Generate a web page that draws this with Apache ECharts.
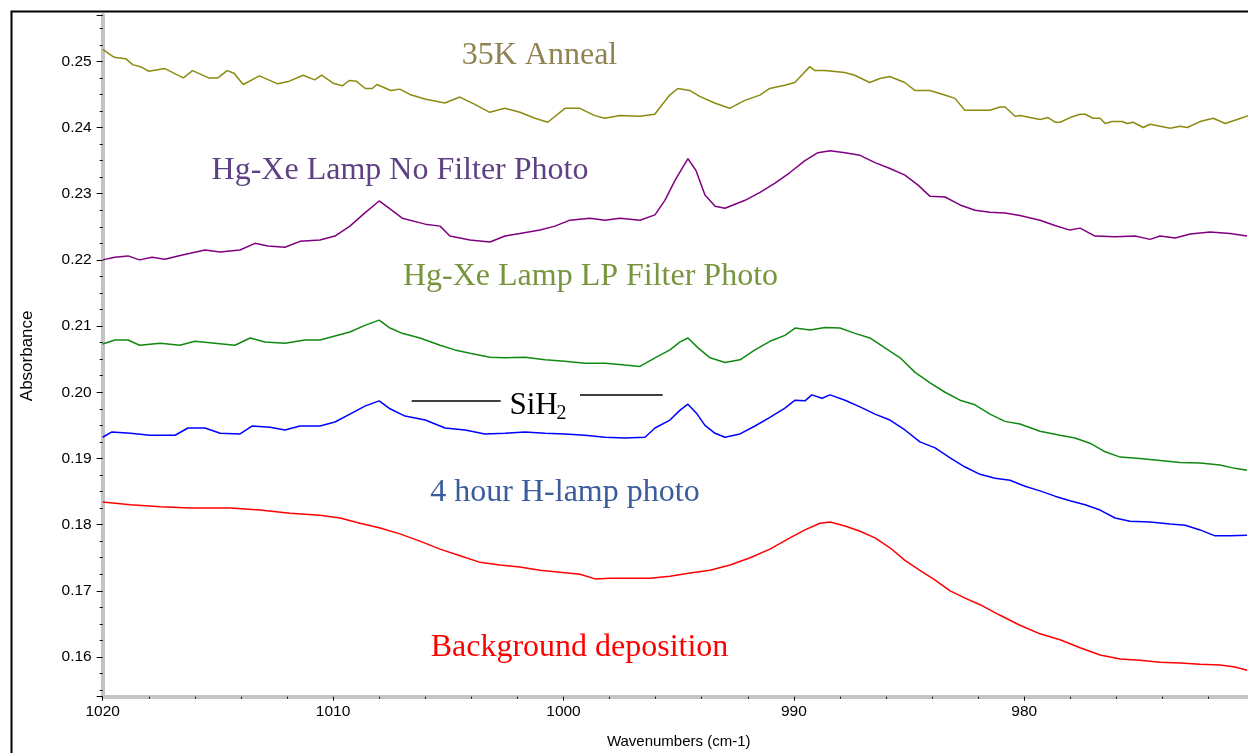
<!DOCTYPE html>
<html>
<head>
<meta charset="utf-8">
<title>SiH2 absorbance spectra</title>
<script src="https://cdn.jsdelivr.net/npm/echarts@6/dist/echarts.min.js"></script>
<style>
  html, body { margin: 0; padding: 0; background: #ffffff; }
  #chart { width: 1248px; height: 753px; }
</style>
</head>
<body>
<div id="chart"></div>
<script>
// Wavenumbers (cm-1) and absorbance for each spectrum

const annealWn = [1020, 1019.5, 1019.0, 1018.7, 1018.3, 1018.0, 1017.3, 1016.5, 1016.1, 1015.4, 1015.0, 1014.6, 1014.3, 1013.9, 1013.2, 1012.4, 1011.9, 1011.3, 1010.8, 1010.5, 1010.0, 1009.6, 1009.3, 1009.0, 1008.6, 1008.3, 1008.1, 1007.5, 1007.1, 1006.67, 1006.02, 1005.15, 1004.5, 1003.85, 1003.2, 1002.55, 1001.89, 1001.24, 1000.68, 999.94, 999.29, 998.64, 998.21, 997.56, 996.69, 996.04, 995.39, 995.04, 994.52, 994.09, 993.44, 992.79, 992.13, 991.48, 991.05, 990.4, 989.96, 989.31, 989.09, 988.66, 987.79, 987.36, 986.71, 986.27, 985.84, 985.19, 984.75, 984.1, 983.45, 983.01, 982.58, 981.49, 981.05, 980.83, 980.4, 980.18, 979.75, 979.31, 978.97, 978.66, 978.45, 978.01, 977.58, 977.36, 977.01, 976.71, 976.49, 976.19, 975.75, 975.54, 975.28, 974.84, 974.54, 974.1, 973.67, 973.24, 972.93, 972.37, 971.8, 971.28, 970.76, 970.28];
const annealAbs = [0.2518, 0.2506, 0.2504, 0.2495, 0.2491, 0.2485, 0.2489, 0.2475, 0.2486, 0.2475, 0.2475, 0.2486, 0.2482, 0.2465, 0.2478, 0.2466, 0.2470, 0.2479, 0.2472, 0.2479, 0.2467, 0.2463, 0.2471, 0.2470, 0.2459, 0.2459, 0.2465, 0.2456, 0.2458, 0.2450, 0.2443, 0.2437, 0.2446, 0.2435, 0.2423, 0.2429, 0.2423, 0.2414, 0.2408, 0.2429, 0.2429, 0.2418, 0.2414, 0.2418, 0.2417, 0.2420, 0.2449, 0.2459, 0.2456, 0.2447, 0.2437, 0.2429, 0.2441, 0.2449, 0.2459, 0.2464, 0.2468, 0.2492, 0.2486, 0.2486, 0.2483, 0.2479, 0.2468, 0.2474, 0.2477, 0.2468, 0.2456, 0.2456, 0.2449, 0.2444, 0.2426, 0.2426, 0.2431, 0.2431, 0.2417, 0.2418, 0.2415, 0.2412, 0.2415, 0.2408, 0.2408, 0.2415, 0.2420, 0.2420, 0.2414, 0.2414, 0.2406, 0.2409, 0.2409, 0.2406, 0.2408, 0.2400, 0.2405, 0.2402, 0.2399, 0.2402, 0.2400, 0.2409, 0.2414, 0.2406, 0.2412, 0.2418];

const noFilterWn = [1020, 1019.47, 1018.9, 1018.4, 1017.86, 1017.3, 1016.73, 1016.2, 1015.56, 1014.9, 1014.04, 1013.39, 1012.83, 1012.09, 1011.44, 1010.57, 1009.92, 1009.27, 1008.62, 1008.0, 1007.53, 1007.0, 1006.0, 1005.36, 1004.93, 1004.06, 1003.19, 1002.54, 1001.89, 1001.02, 1000.37, 999.72, 998.85, 998.2, 997.55, 996.68, 996.03, 995.6, 995.16, 994.6, 994.25, 993.86, 993.42, 992.99, 992.12, 991.47, 990.82, 990.17, 989.52, 988.96, 988.43, 987.78, 987.13, 986.48, 985.83, 985.18, 984.61, 984.09, 983.44, 982.79, 982.14, 981.49, 980.84, 980.19, 979.32, 978.67, 978.02, 977.58, 976.93, 976.06, 975.19, 974.54, 974.11, 973.45, 972.8, 971.94, 971.07, 970.33];
const noFilterAbs = [0.2200, 0.2204, 0.2206, 0.2200, 0.2204, 0.2201, 0.2206, 0.2210, 0.2215, 0.2212, 0.2215, 0.2225, 0.2221, 0.2219, 0.2228, 0.2230, 0.2236, 0.2251, 0.2271, 0.2289, 0.2277, 0.2263, 0.2254, 0.2251, 0.2236, 0.2230, 0.2227, 0.2236, 0.2240, 0.2245, 0.2251, 0.2260, 0.2263, 0.2260, 0.2263, 0.2260, 0.2268, 0.2290, 0.2320, 0.2353, 0.2335, 0.2298, 0.2281, 0.2278, 0.2290, 0.2302, 0.2316, 0.2332, 0.2350, 0.2362, 0.2365, 0.2362, 0.2358, 0.2347, 0.2338, 0.2328, 0.2313, 0.2296, 0.2295, 0.2283, 0.2275, 0.2272, 0.2271, 0.2267, 0.2260, 0.2252, 0.2245, 0.2248, 0.2236, 0.2235, 0.2236, 0.2231, 0.2236, 0.2233, 0.2239, 0.2242, 0.2240, 0.2236];

const lpFilterWn = [1020, 1019.47, 1018.9, 1018.4, 1017.5, 1016.65, 1016.0, 1015.13, 1014.26, 1013.6, 1012.96, 1012.09, 1011.22, 1010.57, 1009.92, 1009.27, 1008.62, 1008.0, 1007.53, 1007.0, 1006.23, 1005.36, 1004.71, 1004.06, 1003.19, 1002.54, 1001.67, 1000.8, 999.94, 999.07, 998.2, 997.33, 996.68, 996.03, 995.38, 994.94, 994.6, 994.16, 993.64, 992.99, 992.34, 991.69, 991.04, 990.39, 989.95, 989.3, 988.65, 988.0, 987.35, 986.7, 986.05, 985.39, 984.74, 984.09, 983.44, 982.79, 982.14, 981.49, 980.84, 980.19, 979.32, 978.45, 977.8, 977.15, 976.49, 975.84, 974.98, 974.11, 973.24, 972.37, 971.51, 970.85, 970.33];
const lpFilterAbs = [0.2073, 0.2079, 0.2079, 0.2071, 0.2074, 0.2071, 0.2077, 0.2074, 0.2071, 0.2082, 0.2076, 0.2074, 0.2079, 0.2079, 0.2085, 0.2091, 0.2101, 0.2109, 0.2097, 0.2089, 0.2082, 0.2071, 0.2064, 0.2059, 0.2053, 0.2052, 0.2053, 0.2049, 0.2047, 0.2044, 0.2044, 0.2041, 0.2039, 0.2052, 0.2064, 0.2076, 0.2082, 0.2067, 0.2052, 0.2045, 0.2049, 0.2064, 0.2077, 0.2086, 0.2097, 0.2094, 0.2098, 0.2097, 0.2089, 0.2082, 0.2067, 0.2052, 0.2030, 0.2014, 0.2000, 0.1988, 0.1981, 0.1967, 0.1956, 0.1952, 0.1941, 0.1935, 0.1931, 0.1923, 0.1910, 0.1902, 0.1900, 0.1897, 0.1894, 0.1893, 0.1890, 0.1885, 0.1882];

const hLampWn = [1020, 1019.6, 1018.8, 1017.95, 1016.86, 1016.3, 1015.56, 1014.9, 1014.04, 1013.52, 1012.74, 1012.09, 1011.44, 1010.57, 1009.92, 1009.27, 1008.62, 1008.0, 1007.53, 1006.88, 1006.0, 1005.14, 1004.27, 1003.41, 1002.54, 1001.67, 1000.8, 999.94, 999.07, 998.2, 997.33, 996.46, 996.03, 995.38, 994.94, 994.6, 994.2, 993.86, 993.42, 992.99, 992.34, 991.69, 991.04, 990.39, 989.95, 989.52, 989.22, 988.78, 988.43, 987.78, 987.13, 986.48, 985.83, 985.18, 984.53, 983.87, 983.22, 982.57, 981.92, 981.27, 980.62, 979.97, 979.32, 978.67, 978.02, 977.36, 976.71, 976.06, 975.41, 974.54, 973.67, 973.02, 972.37, 971.72, 971.07, 970.33];
const hLampAbs = [0.1932, 0.1940, 0.1938, 0.1935, 0.1935, 0.1946, 0.1946, 0.1938, 0.1937, 0.1949, 0.1947, 0.1943, 0.1949, 0.1949, 0.1955, 0.1967, 0.1979, 0.1987, 0.1975, 0.1964, 0.1958, 0.1946, 0.1943, 0.1937, 0.1938, 0.1940, 0.1938, 0.1937, 0.1935, 0.1932, 0.1931, 0.1932, 0.1946, 0.1958, 0.1973, 0.1982, 0.1967, 0.1950, 0.1938, 0.1932, 0.1937, 0.1949, 0.1962, 0.1976, 0.1988, 0.1987, 0.1996, 0.1991, 0.1996, 0.1988, 0.1978, 0.1967, 0.1958, 0.1943, 0.1925, 0.1916, 0.1901, 0.1887, 0.1876, 0.1870, 0.1867, 0.1858, 0.1851, 0.1843, 0.1836, 0.1830, 0.1822, 0.1810, 0.1805, 0.1804, 0.1801, 0.1799, 0.1792, 0.1783, 0.1783, 0.1784];

const backgroundWn = [1020, 1018.8, 1017.5, 1016.2, 1014.47, 1013.17, 1011.87, 1010.57, 1009.7, 1008.83, 1007.96, 1007.1, 1006.23, 1005.36, 1004.49, 1003.62, 1002.76, 1001.89, 1001.02, 1000.15, 999.28, 998.63, 997.98, 997.11, 996.24, 995.38, 994.51, 993.64, 992.77, 991.9, 991.04, 990.17, 989.52, 988.87, 988.43, 987.78, 987.13, 986.48, 985.83, 985.18, 984.53, 983.87, 983.22, 982.57, 981.92, 981.05, 980.19, 979.32, 978.45, 977.58, 976.71, 975.84, 974.98, 974.11, 973.24, 972.37, 971.51, 970.85, 970.33];
const backgroundAbs = [0.1834, 0.1830, 0.1827, 0.1825, 0.1825, 0.1822, 0.1817, 0.1814, 0.1810, 0.1802, 0.1795, 0.1786, 0.1775, 0.1763, 0.1753, 0.1743, 0.1739, 0.1736, 0.1731, 0.1728, 0.1725, 0.1718, 0.1719, 0.1719, 0.1719, 0.1722, 0.1727, 0.1731, 0.1739, 0.1750, 0.1763, 0.1780, 0.1792, 0.1802, 0.1804, 0.1798, 0.1790, 0.1780, 0.1765, 0.1746, 0.1731, 0.1716, 0.1700, 0.1689, 0.1679, 0.1663, 0.1648, 0.1635, 0.1626, 0.1614, 0.1603, 0.1597, 0.1595, 0.1592, 0.1591, 0.1589, 0.1588, 0.1585, 0.1580];

const xTickValues = [1020, 1010, 1000, 990, 980];

const spectra = [
  { name: '35K Anneal', wn: annealWn, abs: annealAbs, color: '#8c8a10' },
  { name: 'Hg-Xe Lamp No Filter Photo', wn: noFilterWn, abs: noFilterAbs, color: '#800080' },
  { name: 'Hg-Xe Lamp LP Filter Photo', wn: lpFilterWn, abs: lpFilterAbs, color: '#118811' },
  { name: '4 hour H-lamp photo', wn: hLampWn, abs: hLampAbs, color: '#0000ff' },
  { name: 'Background deposition', wn: backgroundWn, abs: backgroundAbs, color: '#ff0000' }
];

const chart = echarts.init(document.getElementById('chart'), null, { renderer: 'canvas' });

const serif = 'Liberation Serif, Times New Roman, serif';
const sans = 'Liberation Sans, Arial, sans-serif';

const axisGray = '#c4c4c4';
const captionFont = '32px ' + serif;

chart.setOption({
  backgroundColor: '#ffffff',
  animation: false,
  grid: { left: 102.7, right: -6.7, top: 15, bottom: 56.3, containLabel: false, outerBoundsMode: 'none' },
  xAxis: {
    type: 'value',
    inverse: true,
    min: 970,
    max: 1020,
    interval: 10,
    axisLine: { show: true, lineStyle: { color: axisGray, width: 4 } },
    axisTick: { show: true, length: 4, lineStyle: { color: '#000', width: 1 } },
    minorTick: { show: true, splitNumber: 5, length: 2, lineStyle: { color: '#000', width: 1 } },
    splitLine: { show: false },
    axisLabel: {
      fontFamily: sans, fontSize: 15.5, color: '#000', margin: 7,
      formatter: v => (xTickValues.indexOf(v) >= 0 ? String(v) : '')
    },
    name: 'Wavenumbers (cm-1)',
    nameLocation: 'middle',
    nameGap: 38,
    nameTextStyle: { fontFamily: sans, fontSize: 15, color: '#000' }
  },
  yAxis: {
    type: 'value',
    min: 0.154,
    max: 0.257,
    splitNumber: 10,
    axisLine: { show: true, lineStyle: { color: axisGray, width: 4 } },
    axisTick: { show: true, length: 6, lineStyle: { color: '#000', width: 1 } },
    minorTick: { show: true, splitNumber: 4, length: 3, lineStyle: { color: '#000', width: 1 } },
    splitLine: { show: false },
    axisLabel: {
      fontFamily: sans, fontSize: 15.5, color: '#000', margin: 11,
      showMinLabel: false, showMaxLabel: false,
      formatter: v => v.toFixed(2)
    },
    name: 'Absorbance',
    nameLocation: 'middle',
    nameGap: 67,
    nameTextStyle: { fontFamily: sans, fontSize: 17, color: '#000' }
  },
  series: spectra.map(s => ({
    name: s.name,
    type: 'line',
    data: s.wn.map((w, i) => [w, s.abs[i]]),
    showSymbol: false,
    symbol: 'none',
    smooth: false,
    clip: true,
    lineStyle: { color: s.color, width: 1.5 },
    emphasis: { disabled: true }
  })),
  graphic: [
    // outer frame
    { type: 'rect', silent: true, z: 0,
      shape: { x: 11.5, y: 11.5, width: 1300, height: 800 },
      style: { fill: 'none', stroke: '#000', lineWidth: 2 } },
    // series captions
    { type: 'text', silent: true, x: 539.5, y: 55.5,
      style: { text: '35K Anneal', font: captionFont, fill: '#8f8352', align: 'center', verticalAlign: 'middle' } },
    { type: 'text', silent: true, x: 400, y: 171,
      style: { text: 'Hg-Xe Lamp No Filter Photo', font: captionFont, fill: '#5e4183', align: 'center', verticalAlign: 'middle' } },
    { type: 'text', silent: true, x: 590.5, y: 277,
      style: { text: 'Hg-Xe Lamp LP Filter Photo', font: captionFont, fill: '#76953c', align: 'center', verticalAlign: 'middle' } },
    { type: 'text', silent: true, x: 565, y: 493,
      style: { text: '4 hour H-lamp photo', font: captionFont, fill: '#3a5b9c', align: 'center', verticalAlign: 'middle' } },
    { type: 'text', silent: true, x: 579.5, y: 648,
      style: { text: 'Background deposition', font: captionFont, fill: '#ff0000', align: 'center', verticalAlign: 'middle' } },
    // SiH2 band marker
    { type: 'line', silent: true,
      shape: { x1: 411.7, y1: 401, x2: 500.7, y2: 401 },
      style: { stroke: '#000', lineWidth: 1.6 } },
    { type: 'line', silent: true,
      shape: { x1: 580, y1: 395, x2: 662.7, y2: 395 },
      style: { stroke: '#000', lineWidth: 1.6 } },
    { type: 'text', silent: true, x: 509.5, y: 405.5,
      style: { text: 'SiH', font: '31px ' + serif, fill: '#000', align: 'left', verticalAlign: 'middle' } },
    { type: 'text', silent: true, x: 556.5, y: 414,
      style: { text: '2', font: '20px ' + serif, fill: '#000', align: 'left', verticalAlign: 'middle' } }
  ]
});
</script>
</body>
</html>
